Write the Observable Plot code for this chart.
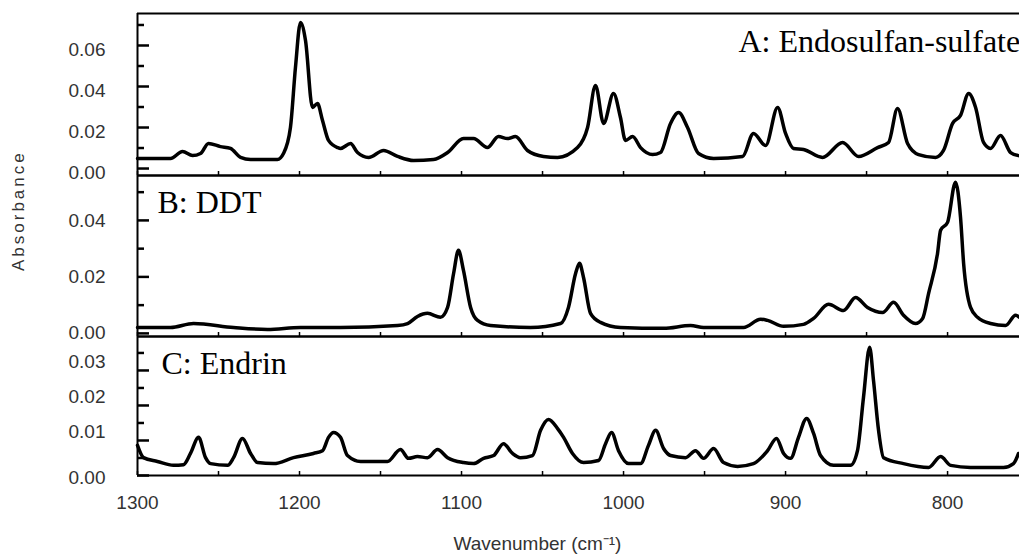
<!DOCTYPE html>
<html><head><meta charset="utf-8">
<script src="https://cdn.jsdelivr.net/npm/d3@7"></script>
<script src="https://cdn.jsdelivr.net/npm/@observablehq/plot@0.6"></script>
<style>
html,body{margin:0;padding:0;background:#fff;overflow:hidden}
#chart{position:relative;width:1019px;height:554px;overflow:hidden;background:#fff}
#chart svg{position:absolute;left:0;top:0}
</style></head><body><div id="chart"></div>
<script>
// Panel A: Endosulfan-sulfate
const wnA = [1300,1279.6,1272.2,1266.0,1261.1,1256.2,1248.8,1242.6,1236.4,1230.2,1213.6,1209.9,1205.6,1202.5,1199.4,1196.3,1192.0,1188.9,1185.8,1182.1,1176.5,1174.7,1168.5,1164.2,1157.4,1148.1,1139.5,1129.6,1117.3,1108.6,1098.8,1092.6,1084.0,1077.2,1071.6,1066.7,1059.3,1049.4,1040.7,1028.4,1022.2,1017.3,1012.3,1006.2,1001.9,998.8,994.4,989.5,982.1,977.2,971.0,966.0,960.5,953.7,944.4,926.5,919.8,912.3,904.9,900.0,895.1,888.9,877.2,864.8,854.9,843.2,836.4,830.9,824.7,817.9,807.4,802.5,796.9,792.0,787.0,782.7,777.8,773.5,767.3,761.1,756.2];
const absA = [0.0049,0.0049,0.0083,0.0063,0.0073,0.0122,0.0107,0.0098,0.0054,0.0044,0.0044,0.0073,0.0200,0.0493,0.0712,0.0624,0.0298,0.0317,0.0234,0.0137,0.0102,0.0098,0.0122,0.0078,0.0054,0.0088,0.0059,0.0039,0.0044,0.0078,0.0146,0.0146,0.0102,0.0156,0.0146,0.0156,0.0088,0.0059,0.0054,0.0102,0.0200,0.0405,0.0220,0.0366,0.0249,0.0137,0.0156,0.0102,0.0068,0.0078,0.0220,0.0273,0.0200,0.0073,0.0049,0.0059,0.0171,0.0112,0.0298,0.0171,0.0098,0.0093,0.0054,0.0127,0.0059,0.0102,0.0127,0.0293,0.0122,0.0068,0.0054,0.0088,0.0220,0.0259,0.0366,0.0298,0.0127,0.0098,0.0161,0.0078,0.0063];

// Panel B: DDT
const wnB = [1300,1279.6,1265.4,1240.7,1219.8,1199.4,1174.7,1139.5,1133.3,1127.2,1121.0,1113.0,1108.6,1104.9,1101.9,1098.8,1094.4,1090.1,1082.1,1057.4,1038.9,1034.0,1029.6,1027.2,1024.7,1020.4,1014.2,1001.9,975.3,958.6,950.6,925.9,915.4,911.1,901.2,888.9,882.7,873.5,864.2,856.8,849.4,840.1,833.3,827.2,819.8,815.4,811.7,806.2,804.3,800.0,795.1,792.0,790.1,785.8,781.5,773.5,764.2,758.0,755.6];
const absB = [0.0021,0.0021,0.0035,0.0021,0.0014,0.0021,0.0021,0.0028,0.0035,0.0060,0.0071,0.0057,0.0092,0.0212,0.0294,0.0223,0.0092,0.0046,0.0028,0.0021,0.0035,0.0092,0.0212,0.0248,0.0198,0.0071,0.0039,0.0021,0.0018,0.0028,0.0021,0.0021,0.0050,0.0046,0.0025,0.0032,0.0053,0.0103,0.0081,0.0127,0.0092,0.0074,0.0110,0.0064,0.0035,0.0053,0.0142,0.0283,0.0365,0.0393,0.0535,0.0411,0.0248,0.0092,0.0057,0.0035,0.0028,0.0064,0.0057];

// Panel C: Endrin
const wnC = [1300,1296.3,1287.7,1277.8,1271.6,1267.3,1262.3,1258.0,1254.9,1244.4,1240.7,1235.2,1230.2,1225.9,1216.0,1203.7,1191.4,1185.8,1182.1,1179.0,1174.7,1170.4,1162.3,1145.7,1137.7,1132.7,1127.2,1121.0,1114.8,1108.6,1098.8,1092.6,1086.4,1080.2,1074.1,1068.5,1063.6,1056.2,1051.2,1046.3,1040.7,1037.0,1031.5,1024.7,1015.4,1011.1,1007.4,1003.1,996.9,989.5,984.6,980.2,975.3,971.0,961.7,955.6,950.6,944.4,938.3,929.6,919.8,911.1,905.6,901.2,896.9,892.0,887.0,882.7,878.4,870.4,859.9,855.6,851.9,848.1,845.7,842.6,839.5,827.2,811.7,804.3,798.1,785.8,765.4,759.3,756.2];
const absC = [0.0086,0.0051,0.0040,0.0029,0.0031,0.0063,0.0109,0.0051,0.0034,0.0029,0.0051,0.0106,0.0063,0.0037,0.0034,0.0051,0.0063,0.0071,0.0109,0.0123,0.0109,0.0057,0.0040,0.0040,0.0074,0.0049,0.0054,0.0051,0.0074,0.0051,0.0037,0.0034,0.0049,0.0057,0.0091,0.0063,0.0051,0.0057,0.0129,0.0160,0.0134,0.0109,0.0063,0.0037,0.0043,0.0091,0.0123,0.0071,0.0034,0.0034,0.0086,0.0129,0.0077,0.0057,0.0051,0.0071,0.0049,0.0077,0.0037,0.0026,0.0034,0.0071,0.0106,0.0063,0.0049,0.0109,0.0163,0.0120,0.0057,0.0029,0.0029,0.0071,0.0223,0.0366,0.0271,0.0129,0.0051,0.0034,0.0023,0.0054,0.0029,0.0023,0.0023,0.0034,0.0063];

// Axis ticks and labels
const xDomain = [1300, 755.6];
const xTickLabels = [1300, 1200, 1100, 1000, 900, 800];
const xMinorTicks = [1300,1250,1200,1150,1100,1050,1000,950,900,850,800];
const yMajorA = [0, 0.02, 0.04, 0.06], yMinorA = [0.01, 0.03, 0.05, 0.07];
const yMajorB = [0, 0.02, 0.04], yMinorB = [0.01, 0.03, 0.05];
const yMajorC = [0, 0.01, 0.02, 0.03], yMinorC = [0.005, 0.015, 0.025, 0.035];
const labelA = "A: Endosulfan-sulfate", labelB = "B: DDT", labelC = "C: Endrin";
const yTitle = "Absorbance", xTitle = "Wavenumber (cm\u207B\u00B9)";

const W = 1019, H = 554, ML = 137, FW = W - ML;
const fmt = d3.format(".2f");

function panel(o) {
  const data = o.wn.map((w, i) => ({w, a: o.ab[i]}));
  const PH = H - o.mt - o.mb;
  const marks = [
    Plot.line(data, {x: "w", y: "a", stroke: "#000", strokeWidth: 3.5, curve: "monotone-x", strokeLinejoin: "round"}),
    Plot.ruleX([xDomain[0]], {stroke: "#000", strokeWidth: 2}),
    Plot.ruleY(o.yDomain, {stroke: "#000", strokeWidth: 2}),
    Plot.tickY(o.major, {y: d => d, insetRight: FW - 12, stroke: "#000", strokeWidth: 2.5}),
    Plot.tickY(o.minor, {y: d => d, insetRight: FW - 7, stroke: "#000", strokeWidth: 2.5}),
    Plot.tickX(xMinorTicks, {x: d => d, insetTop: PH - 4, stroke: "#000", strokeWidth: 1.5}),
    Plot.text([o.label], {frameAnchor: "top-left", dx: o.ldx, dy: o.ldy, textAnchor: "start", lineAnchor: "middle",
      fontFamily: "'Liberation Serif', 'Times New Roman', serif", fontSize: 32, fill: "#000"})
  ];
  for (const g of o.yLabels) {
    marks.push(Plot.axisY(g.ticks, {tickSize: 0, tickPadding: 32, tickFormat: fmt, dy: g.dy, fill: "#333", label: null}));
  }
  return Plot.plot({
    width: W, height: H,
    marginLeft: ML, marginRight: 0, marginTop: o.mt, marginBottom: o.mb,
    x: {domain: xDomain, axis: null},
    y: {domain: o.yDomain, axis: null},
    style: {background: "transparent", maxWidth: "none", overflow: "visible",
      fontFamily: "'Liberation Sans', Arial, sans-serif", fontSize: "19px", color: "#333"},
    marks: marks.concat(o.extra || [])
  });
}

const chart = document.getElementById("chart");

chart.append(panel({wn: wnA, ab: absA, yDomain: [-0.0034, 0.0756], mt: 13, mb: H - 175,
  major: yMajorA, minor: yMinorA, label: labelA, ldx: 601, ldy: 28,
  yLabels: [{ticks: yMajorA, dy: 4}]}));

const pb = panel({wn: wnB, ab: absB, yDomain: [-0.0011, 0.0559], mt: 175, mb: H - 336,
  major: yMajorB, minor: yMinorB, label: labelB, ldx: 20, ldy: 27,
  yLabels: [{ticks: yMajorB, dy: 0}],
  extra: [Plot.text([yTitle], {frameAnchor: "left", dx: -119, dy: 15, rotate: -90, fontSize: 17, fill: "#333"})]});
chart.append(pb);
pb.querySelectorAll("text").forEach(t => { if (t.textContent === yTitle) t.style.letterSpacing = "3px"; });

chart.append(panel({wn: wnC, ab: absC, yDomain: [0, 0.0397], mt: 336, mb: H - 475,
  major: yMajorC, minor: yMinorC, label: labelC, ldx: 24, ldy: 27,
  yLabels: [{ticks: [0.01, 0.02, 0.03], dy: -9}, {ticks: [0], dy: 2}],
  extra: [
    Plot.axisX(xTickLabels, {tickSize: 0, tickPadding: 20, tickFormat: d => String(d), fill: "#333", label: null}),
    Plot.text([xTitle], {frameAnchor: "bottom", dx: -41, dy: 68, lineAnchor: "middle", fontSize: 19, fill: "#333"})
  ]}));
</script></body></html>
